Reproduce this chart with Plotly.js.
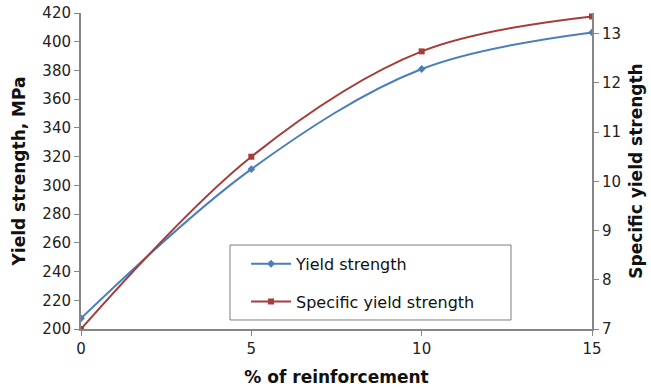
<!DOCTYPE html>
<html>
<head>
<meta charset="utf-8">
<script src="https://cdn.plot.ly/plotly-3.0.1.min.js"></script>
<style>html,body{margin:0;padding:0;background:#fff;}#chart{width:651px;height:389px;}</style>
</head>
<body>
<div id="chart"></div>
<script>
const reinforcement = [0, 5, 10, 15];
const yieldStrength = [207.4, 311.3, 381, 406.5];
const specificYieldStrength = [7.0, 10.5, 12.64, 13.35];
const seriesNames = ["Yield strength", "Specific yield strength"];
const leftTicks = [200, 220, 240, 260, 280, 300, 320, 340, 360, 380, 400, 420];
const rightTicks = [7, 8, 9, 10, 11, 12, 13];
const xTicks = [0, 5, 10, 15];

const axisColor = '#868686';
const tickFont = {family: 'DejaVu Sans, sans-serif', size: 15, color: '#222'};
const titleFont = {family: 'DejaVu Sans, sans-serif', size: 17, color: '#111', weight: 'bold'};

const traces = [
  {
    x: reinforcement, y: yieldStrength, name: seriesNames[0], type: 'scatter', mode: 'lines+markers',
    line: {color: '#4a7ebb', width: 2, shape: 'spline', smoothing: 1},
    marker: {symbol: 'diamond', size: 6, color: '#4a7ebb'},
    legendgroup: 'a', yaxis: 'y'
  },
  {
    x: reinforcement, y: specificYieldStrength, name: seriesNames[1], type: 'scatter', mode: 'lines+markers',
    line: {color: '#a63c3a', width: 2, shape: 'spline', smoothing: 1},
    marker: {symbol: 'square', size: 6, color: '#a63c3a'},
    legendgroup: 'b', yaxis: 'y2'
  }
];

const layout = {
  width: 651, height: 389,
  margin: {l: 81, r: 59, t: 13, b: 60},
  paper_bgcolor: '#fff', plot_bgcolor: '#fff',
  showlegend: true,
  legend: {
    x: 0.323, y: 0.26, xanchor: 'left', yanchor: 'top',
    borderwidth: 0, bgcolor: 'rgba(0,0,0,0)',
    font: {family: 'DejaVu Sans, sans-serif', size: 16, color: '#111'},
    traceorder: 'grouped', tracegroupgap: 14, itemwidth: 40
  },
  shapes: [{
    type: 'rect', xref: 'paper', yref: 'paper',
    x0: 0.2916, x1: 0.8415, y0: 0.0285, y1: 0.2658,
    line: {color: '#7f7f7f', width: 1}, fillcolor: '#fff', layer: 'below'
  }],
  xaxis: {
    range: [0, 15], tickvals: xTicks, ticktext: xTicks.map(String),
    showgrid: false, zeroline: false, showline: true, linecolor: axisColor, linewidth: 2,
    ticks: 'outside', ticklen: 5, tickcolor: axisColor, tickfont: tickFont,
    title: {text: '% of reinforcement', font: titleFont, standoff: 14}
  },
  yaxis: {
    range: [200, 420], tickvals: leftTicks, ticktext: leftTicks.map(String),
    showgrid: false, zeroline: false, showline: true, linecolor: axisColor, linewidth: 2,
    ticks: 'outside', ticklen: 5, tickcolor: axisColor, tickfont: tickFont,
    title: {text: 'Yield strength, MPa', font: titleFont, standoff: 12}
  },
  yaxis2: {
    overlaying: 'y', side: 'right',
    range: [7, 13.42], tickvals: rightTicks, ticktext: rightTicks.map(String),
    showgrid: false, zeroline: false, showline: true, linecolor: axisColor, linewidth: 2,
    ticks: 'outside', ticklen: 5, tickcolor: axisColor, tickfont: tickFont,
    title: {text: 'Specific yield strength', font: titleFont, standoff: 10}
  }
};

Plotly.newPlot('chart', traces, layout, {staticPlot: true, displayModeBar: false});
</script>
</body>
</html>
